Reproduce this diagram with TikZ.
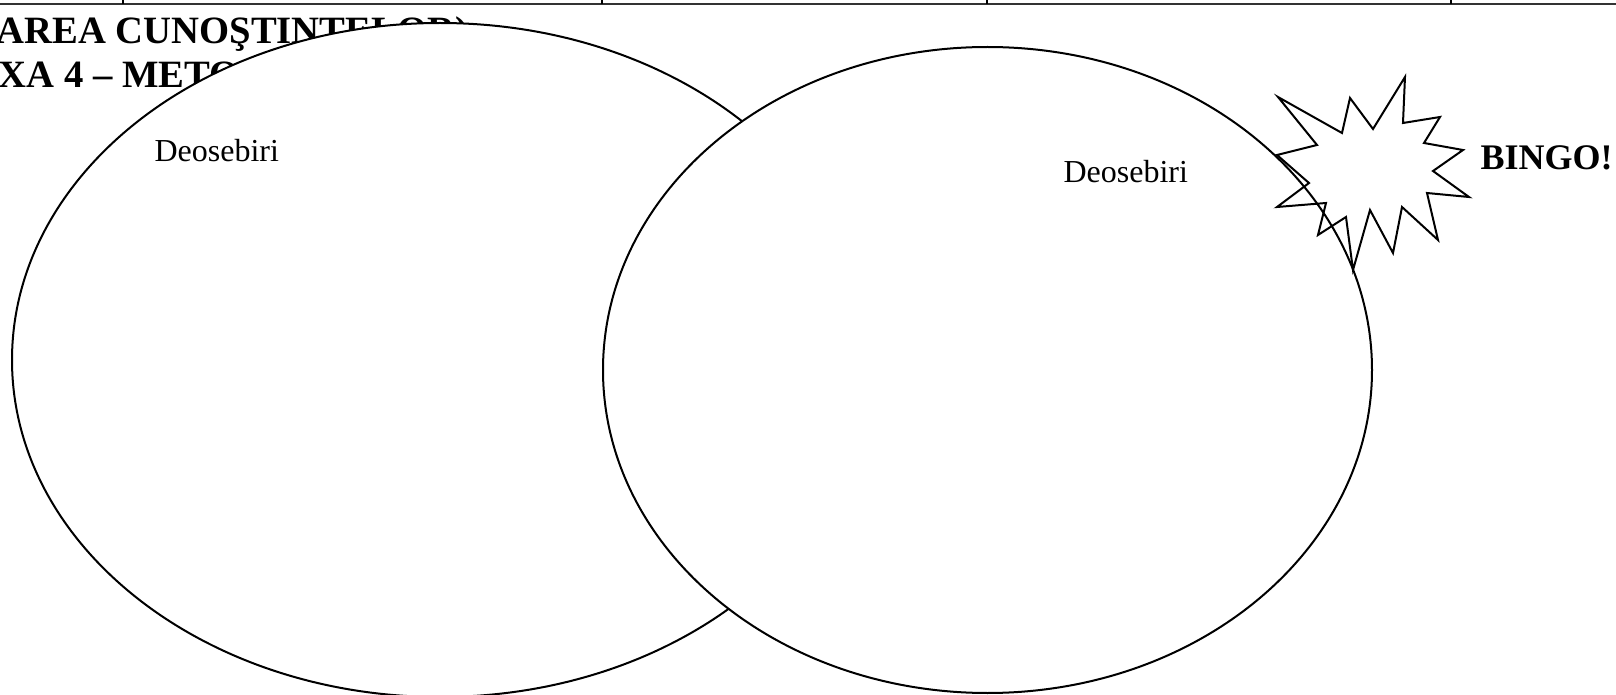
\documentclass[tikz,border=0pt]{standalone}
\usepackage{fontspec}
\setmainfont{Liberation Serif}
\begin{document}
\begin{tikzpicture}[x=0.375pt,y=-0.375pt,
  heading/.style={font=\fontsize{14.5}{16}\selectfont\bfseries, inner sep=0pt, anchor=base west},
  label/.style={font=\fontsize{12}{14}\selectfont, inner sep=0pt, anchor=base west},
  venn/.style={draw=black, fill=white, line width=0.75pt},
  burst/.style={draw=black, line width=0.75pt, line join=miter}]
\useasboundingbox (0,0) rectangle (1616,695);
\clip (0,0) rectangle (1616,695);
% table border at top
\draw[line width=0.6pt, black!80] (0,4) -- (1616,4);
\foreach \xx in {123,602,987,1451} \draw[line width=0.4pt] (\xx,0) -- (\xx,4);
% heading lines (partly hidden)
\node[heading] (h1) at (-4,44) {AREA CUNOŞTINŢELOR)};
\node[heading] (h2) at (-2,88) {XA 4 – METODA};
% Venn ellipses
\draw[venn] (440,360) ellipse [x radius=428, y radius=337];
\draw[venn] (987.5,370) ellipse [x radius=384.5, y radius=323];
% labels
\node[label] (d1) at (154,162) {Deosebiri};
\node[label] (d2) at (1063,183) {Deosebiri};
% starburst
\draw[burst] (1278,97) -- (1342,133) -- (1350,98) -- (1373,129) -- (1405,77)
  -- (1403,123) -- (1440,117) -- (1424,143) -- (1463,150) -- (1433,171)
  -- (1469,197) -- (1427,193) -- (1438,240) -- (1402,207) -- (1393,253)
  -- (1370,210) -- (1353,270) -- (1346,217) -- (1318,235) -- (1326,203)
  -- (1277,207) -- (1309,183) -- (1277,155) -- (1317,145) -- cycle;
\node[heading] (bingo) at (1480,170) {\fontsize{13.5}{16}\selectfont BINGO!};
\end{tikzpicture}
\end{document}
